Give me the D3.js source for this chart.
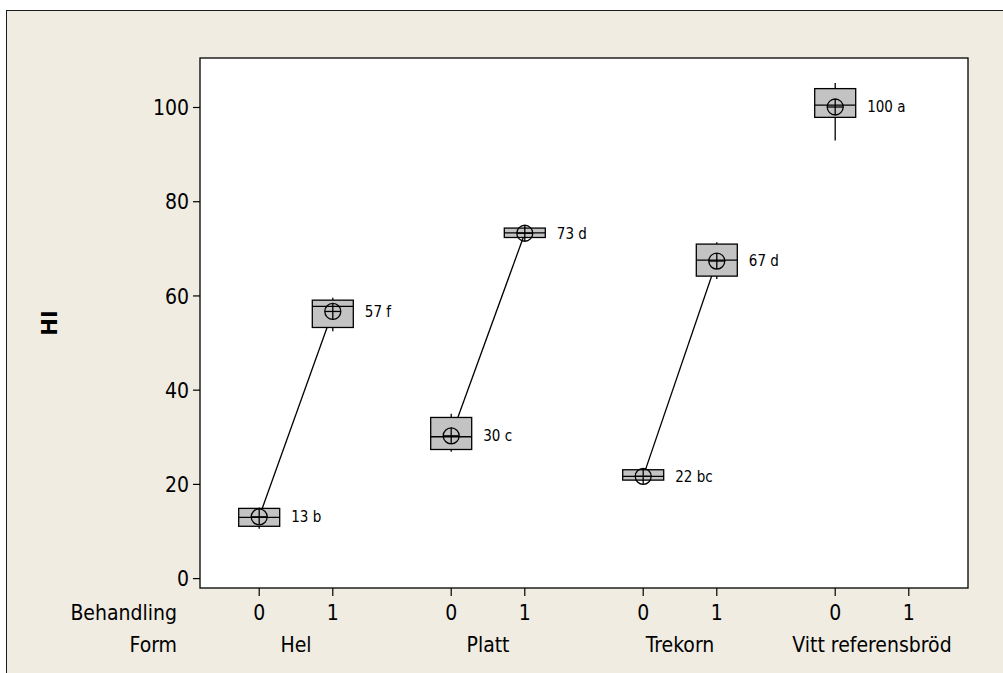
<!DOCTYPE html>
<html>
<head>
<meta charset="utf-8">
<script src="https://cdn.jsdelivr.net/npm/d3@7/dist/d3.min.js"></script>
<style>
  html, body { margin: 0; padding: 0; background: #ffffff; }
  svg { display: block; }
  text { font-family: "DejaVu Sans Condensed", "DejaVu Sans", sans-serif; font-stretch: condensed; fill: #000; }
</style>
</head>
<body>
<svg id="chart" width="1003" height="673"></svg>
<script>
// ---------- data ----------
const forms = ["Hel", "Platt", "Trekorn", "Vitt referensbröd"];
const behandling = [0, 1];
const yTicks = [0, 20, 40, 60, 80, 100];
// one entry per box (form, behandling)
const boxForm   = ["Hel", "Hel", "Platt", "Platt", "Trekorn", "Trekorn", "Vitt referensbröd"];
const boxBeh    = [0, 1, 0, 1, 0, 1, 0];
const whiskLow  = [10.5, 52.4, 26.8, 72.2, 20.6, 63.5, 92.9];
const q1        = [11.0, 53.2, 27.3, 72.3, 20.8, 64.1, 97.8];
const median    = [12.9, 57.7, 30.0, 73.3, 21.6, 67.5, 100.4];
const q3        = [14.8, 59.0, 34.1, 74.3, 23.0, 70.9, 103.9];
const whiskHigh = [15.0, 59.5, 34.9, 74.6, 23.2, 71.3, 105.1];
const means     = [13.0, 56.6, 30.2, 73.2, 21.6, 67.3, 100.0];
const letters   = ["b", "f", "c", "d", "bc", "d", "a"];

// ---------- layout ----------
const svg = d3.select("#chart");
const W = 1003, H = 673;
const plot = { left: 200, top: 58, right: 968, bottom: 588 };

// background + frame
svg.append("rect").attr("x", 0).attr("y", 0).attr("width", W).attr("height", H).attr("fill", "#ffffff");
svg.append("rect").attr("x", 6.5).attr("y", 10.5).attr("width", 1200).attr("height", 1000)
  .attr("fill", "#f0ece2").attr("stroke", "#1a1a1a").attr("stroke-width", 1);

svg.append("rect").attr("x", plot.left).attr("y", plot.top)
  .attr("width", plot.right - plot.left).attr("height", plot.bottom - plot.top)
  .attr("fill", "#ffffff").attr("stroke", "#000").attr("stroke-width", 1.3);

// scales
const xG = d3.scaleBand().domain(forms).range([plot.left, plot.right]).paddingInner(0).paddingOuter(0);
const xB = d3.scalePoint().domain(behandling)
  .range([xG.bandwidth() / 2 - 36.8, xG.bandwidth() / 2 + 36.8]);
const xPos = (f, b) => xG(f) + xB(b);
const y = d3.scaleLinear().domain([-2.1, 110.4]).range([plot.bottom, plot.top]);

// y axis
const yAxis = d3.axisLeft(y).tickValues(yTicks).tickSize(7).tickPadding(4);
const gy = svg.append("g").attr("transform", `translate(${plot.left},0)`).call(yAxis);
gy.select(".domain").remove();
gy.selectAll(".tick line").attr("stroke", "#000").attr("stroke-width", 1.2);
gy.selectAll(".tick text").style("font-size", "21px").attr("dy", "0.36em").attr("fill", "#000");

// y title
svg.append("text")
  .attr("transform", `translate(57,323) rotate(-90)`)
  .attr("text-anchor", "middle")
  .style("font-size", "21px").style("font-weight", "bold")
  .style("font-stretch", "normal")
  .style("font-family", "'DejaVu Sans', sans-serif")
  .text("HI");

// x axis: ticks for every (form, behandling)
const xCats = [];
forms.forEach(f => behandling.forEach(b => xCats.push({ f, b })));
const gx = svg.append("g");
gx.selectAll("line.xt").data(xCats).join("line")
  .attr("x1", d => xPos(d.f, d.b)).attr("x2", d => xPos(d.f, d.b))
  .attr("y1", plot.bottom).attr("y2", plot.bottom + 8)
  .attr("stroke", "#000").attr("stroke-width", 1.2);
gx.selectAll("text.xb").data(xCats).join("text")
  .attr("x", d => xPos(d.f, d.b)).attr("y", 620)
  .attr("text-anchor", "middle").style("font-size", "21px")
  .text(d => d.b);
gx.selectAll("text.xf").data(forms).join("text")
  .attr("x", d => xG(d) + xG.bandwidth() / 2).attr("y", 652)
  .attr("text-anchor", "middle").style("font-size", "21px")
  .text(d => d);
svg.append("text").attr("x", 177).attr("y", 620).attr("text-anchor", "end")
  .style("font-size", "21px").text("Behandling");
svg.append("text").attr("x", 177).attr("y", 652).attr("text-anchor", "end")
  .style("font-size", "21px").text("Form");

// ---------- boxes ----------
const boxes = boxForm.map((f, i) => ({
  f, b: boxBeh[i], lo: whiskLow[i], q1: q1[i], med: median[i], q3: q3[i], hi: whiskHigh[i],
  mean: means[i], letter: letters[i]
}));
const bw = 41;

// connect means within each form
forms.forEach(f => {
  const pts = boxes.filter(d => d.f === f);
  if (pts.length > 1) {
    svg.append("path")
      .attr("d", d3.line().x(d => xPos(d.f, d.b)).y(d => y(d.mean))(pts))
      .attr("fill", "none").attr("stroke", "#000").attr("stroke-width", 1.3);
  }
});

const gb = svg.append("g").selectAll("g").data(boxes).join("g");
// whiskers
gb.append("line")
  .attr("x1", d => xPos(d.f, d.b)).attr("x2", d => xPos(d.f, d.b))
  .attr("y1", d => y(d.hi)).attr("y2", d => y(d.q3))
  .attr("stroke", "#000").attr("stroke-width", 1.3);
gb.append("line")
  .attr("x1", d => xPos(d.f, d.b)).attr("x2", d => xPos(d.f, d.b))
  .attr("y1", d => y(d.q1)).attr("y2", d => y(d.lo))
  .attr("stroke", "#000").attr("stroke-width", 1.3);
// box
gb.append("rect")
  .attr("x", d => xPos(d.f, d.b) - bw / 2).attr("width", bw)
  .attr("y", d => y(d.q3)).attr("height", d => y(d.q1) - y(d.q3))
  .attr("fill", "#c3c3c3").attr("stroke", "#000").attr("stroke-width", 1.3);
// median
gb.append("line")
  .attr("x1", d => xPos(d.f, d.b) - bw / 2).attr("x2", d => xPos(d.f, d.b) + bw / 2)
  .attr("y1", d => y(d.med)).attr("y2", d => y(d.med))
  .attr("stroke", "#000").attr("stroke-width", 1.3);
// mean symbol (circle with cross)
const r = 8;
gb.append("circle")
  .attr("cx", d => xPos(d.f, d.b)).attr("cy", d => y(d.mean)).attr("r", r)
  .attr("fill", "none").attr("stroke", "#000").attr("stroke-width", 1.3);
gb.append("line")
  .attr("x1", d => xPos(d.f, d.b) - r).attr("x2", d => xPos(d.f, d.b) + r)
  .attr("y1", d => y(d.mean)).attr("y2", d => y(d.mean))
  .attr("stroke", "#000").attr("stroke-width", 1.3);
gb.append("line")
  .attr("x1", d => xPos(d.f, d.b)).attr("x2", d => xPos(d.f, d.b))
  .attr("y1", d => y(d.mean) - r).attr("y2", d => y(d.mean) + r)
  .attr("stroke", "#000").attr("stroke-width", 1.3);
// labels
gb.append("text")
  .attr("x", d => xPos(d.f, d.b) + 32).attr("y", d => y(d.mean)).attr("dy", "0.36em")
  .style("font-size", "15px")
  .text(d => `${Math.round(d.mean)} ${d.letter}`);
</script>
</body>
</html>
